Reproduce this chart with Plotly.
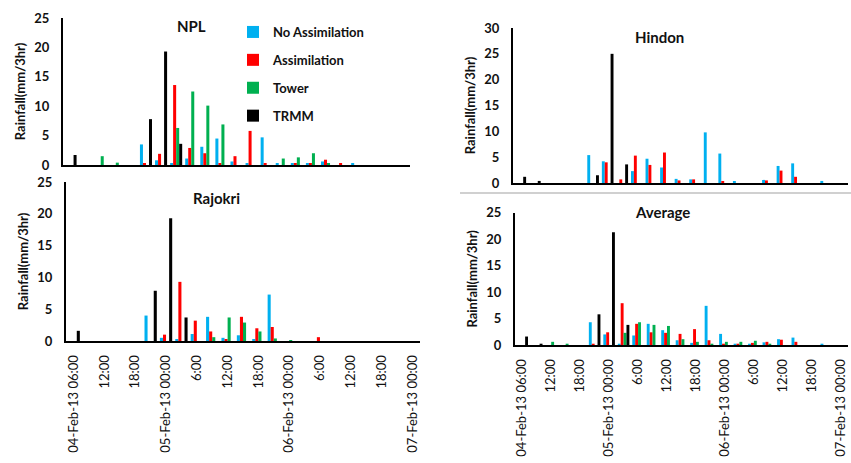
import plotly.graph_objects as go

W, H = 851, 463

slots = list(range(23))
tick_vals = list(range(0, 23, 2))
tick_text = ["04-Feb-13 06:00", "12:00", "18:00", "05-Feb-13 00:00", "6:00", "12:00",
             "18:00", "06-Feb-13 00:00", "6:00", "12:00", "18:00", "07-Feb-13 00:00"]

series_names = ["No Assimilation", "Assimilation", "Tower", "TRMM"]
series_colors = ["#00B0F0", "#FF0000", "#00B050", "#000000"]

npl_noassim = [0, 0, 0, 0, 0, 3.5, 0.8, 0.3, 1.1, 3.1, 4.5, 0.6, 0.2, 4.7, 0.3, 0.3, 0.3, 0.6, 0, 0.3, 0, 0, 0]
npl_assim = [0, 0, 0, 0, 0, 0.3, 1.9, 13.6, 2.9, 2.0, 0.3, 1.5, 5.8, 0.3, 0, 0.3, 0.3, 0.9, 0.3, 0, 0, 0, 0]
npl_tower = [0, 0, 1.5, 0.4, 0, 0, 0, 6.3, 12.5, 10.1, 6.9, 0, 0, 0, 1.1, 1.3, 2.0, 0.3, 0, 0, 0, 0, 0]
npl_trmm = [1.7, 0, 0, 0, 0, 7.8, 19.3, 3.6, 0, 0, 0, 0, 0, 0, 0, 0, 0, 0, 0, 0, 0, 0, 0]

raj_noassim = [0, 0, 0, 0, 0, 4.0, 0.5, 0.3, 1.1, 3.8, 0.5, 0.9, 0.3, 7.3, 0, 0, 0, 0, 0, 0, 0, 0, 0]
raj_assim = [0, 0, 0, 0, 0, 0, 1.0, 9.3, 3.2, 1.5, 0.2, 3.8, 2.0, 2.2, 0, 0, 0.6, 0, 0, 0, 0, 0, 0]
raj_tower = [0, 0, 0, 0, 0, 0, 0, 0, 0, 0.6, 3.7, 2.9, 1.5, 0.4, 0.1, 0, 0, 0, 0, 0, 0, 0, 0]
raj_trmm = [1.6, 0, 0, 0, 0, 7.9, 19.3, 3.7, 0, 0, 0, 0, 0, 0, 0, 0, 0, 0, 0, 0, 0, 0, 0]

hin_noassim = [0, 0, 0, 0, 0, 5.4, 4.2, 0, 2.3, 4.7, 3.0, 0.8, 0.7, 9.8, 5.7, 0.2, 0, 0.6, 3.3, 3.8, 0, 0.4, 0]
hin_assim = [0, 0, 0, 0, 0, 0, 4.0, 0.7, 5.3, 3.5, 5.9, 0.5, 0.7, 0, 0.2, 0, 0, 0.5, 2.4, 1.2, 0, 0, 0]
hin_tower = [0] * 23
hin_trmm = [1.2, 0.4, 0, 0, 0, 1.5, 25.0, 3.6, 0, 0, 0, 0, 0, 0, 0, 0, 0, 0, 0, 0, 0, 0, 0]

avg_noassim = [0, 0, 0, 0, 0, 4.3, 2.0, 0.1, 1.8, 4.0, 2.8, 0.9, 0.4, 7.4, 2.1, 0.2, 0.2, 0.5, 1.1, 1.4, 0, 0.1, 0]
avg_assim = [0, 0, 0, 0, 0, 0.1, 2.4, 7.9, 4.0, 2.4, 2.3, 2.1, 3.0, 0.9, 0.1, 0.1, 0.4, 0.6, 1.0, 0.6, 0, 0, 0]
avg_tower = [0, 0, 0.6, 0.1, 0, 0, 0, 2.3, 4.3, 3.8, 3.6, 1.1, 0.6, 0.1, 0.6, 0.6, 0.8, 0.1, 0, 0, 0, 0, 0]
avg_trmm = [1.6, 0.2, 0, 0, 0, 5.8, 21.3, 3.8, 0, 0, 0, 0, 0, 0, 0, 0, 0, 0, 0, 0, 0, 0, 0]

panels = [
    ("NPL", [npl_noassim, npl_assim, npl_tower, npl_trmm], 25),
    ("Rajokri", [raj_noassim, raj_assim, raj_tower, raj_trmm], 25),
    ("Hindon", [hin_noassim, hin_assim, hin_tower, hin_trmm], 30),
    ("Average", [avg_noassim, avg_assim, avg_tower, avg_trmm], 25),
]

# pixel boxes: (x0, x1, ybottom, ytop)
boxes = [(63, 410, 165, 18), (66, 420, 341, 182), (513, 848, 183, 28), (515, 848, 345, 212.7)]
title_pos = [(191, 26), (216, 198), (659, 37), (662, 212)]

fig = go.Figure()
FONT = "Lato"

for p, (name, data, ymax) in enumerate(panels):
    xa = "x" if p == 0 else f"x{p+1}"
    ya = "y" if p == 0 else f"y{p+1}"
    for s in range(4):
        fig.add_trace(go.Bar(
            x=slots, y=data[s], name=series_names[s],
            marker=dict(color=series_colors[s], line=dict(width=0)),
            xaxis=xa, yaxis=ya, showlegend=(p == 0),
            legendgroup=series_names[s], legendrank=s,
        ))
    x0, x1, yb, yt = boxes[p]
    show_x = p in (1, 3)
    xkey = "xaxis" if p == 0 else f"xaxis{p+1}"
    ykey = "yaxis" if p == 0 else f"yaxis{p+1}"
    fig.layout[xkey] = dict(
        domain=[x0 / W, x1 / W], anchor=ya, range=[-0.5, 22.5], automargin=False,
        showline=True, linecolor="black", linewidth=2, showgrid=False, zeroline=False,
        tickmode="array", tickvals=tick_vals, ticktext=tick_text, ticks="",
        showticklabels=show_x, tickangle=-90, ticklabelstandoff=7,
        ticklabeloverflow="allow",
        tickfont=dict(family=FONT, size=13, color="#111"),
    )
    fig.layout[ykey] = dict(
        domain=[1 - yb / H, 1 - yt / H], anchor=xa, range=[0, ymax], dtick=5,
        automargin=False,
        showline=True, linecolor="black", linewidth=2, showgrid=False, zeroline=False,
        ticks="", ticklabelstandoff=9,
        tickfont=dict(family=FONT, size=13, color="#111", weight="bold"),
        title=dict(text="Rainfall(mm/3hr)", standoff=6,
                   font=dict(family=FONT, size=13, color="#111", weight="bold")),
    )
    tx, ty = title_pos[p]
    fig.add_annotation(x=tx / W, y=1 - ty / H, xref="paper", yref="paper",
                       text=name, showarrow=False, xanchor="center", yanchor="middle",
                       font=dict(family=FONT, size=15, color="#111", weight="bold"))

fig.add_shape(type="line", xref="paper", yref="paper",
              x0=460 / W, x1=1, y0=1 - 193 / H, y1=1 - 193 / H,
              line=dict(color="#D0D0D0", width=2))

fig.update_layout(
    width=W, height=H, margin=dict(l=0, r=0, t=0, b=0, autoexpand=False),
    paper_bgcolor="white", plot_bgcolor="white",
    barmode="group", bargap=0.2, bargroupgap=0,
    legend=dict(x=233 / W, y=1 - 17 / H, xanchor="left", yanchor="top",
                bgcolor="rgba(0,0,0,0)", tracegroupgap=8, itemwidth=30,
                font=dict(family=FONT, size=13, color="#111", weight="bold")),
)

fig.write_html("out.html", config={"displayModeBar": False},
               post_script="document.body.style.margin='0px';document.body.style.overflow='hidden';")
